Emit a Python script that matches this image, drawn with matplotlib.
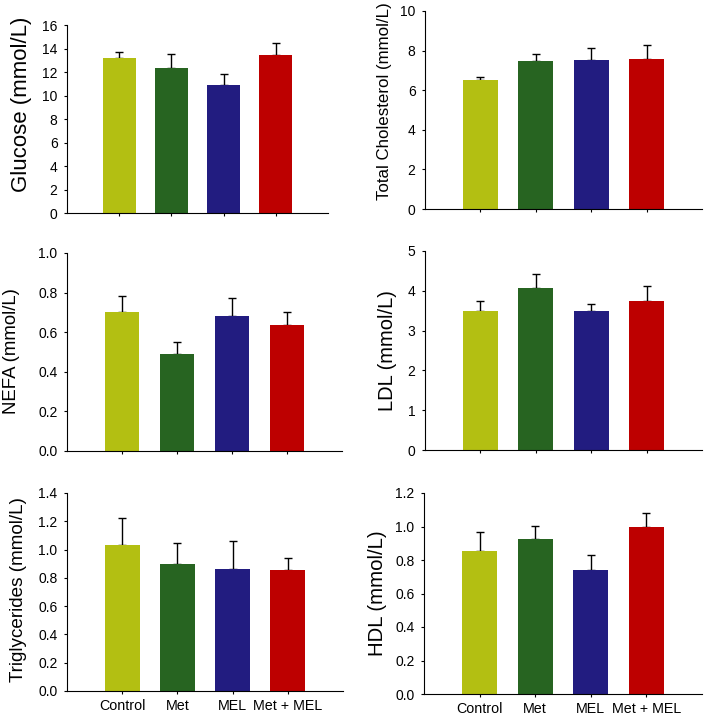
import matplotlib
matplotlib.use("Agg")
import matplotlib.pyplot as plt

plt.rcParams["font.family"] = ["Liberation Sans", "DejaVu Sans"]

# ===== data =====
groups = ["Control", "Met", "MEL", "Met + MEL"]
bar_colors = ["#B3BF12", "#276421", "#221C80", "#BD0000"]

glucose = [13.15, 12.3, 10.92, 13.42]
glucose_err = [0.58, 1.22, 0.88, 1.02]

total_chol = [6.54, 7.45, 7.54, 7.58]
total_chol_err = [0.15, 0.39, 0.6, 0.69]

nefa = [0.704, 0.489, 0.681, 0.635]
nefa_err = [0.077, 0.061, 0.094, 0.066]

ldl = [3.50, 4.07, 3.50, 3.74]
ldl_err = [0.24, 0.35, 0.17, 0.37]

trig = [1.03, 0.90, 0.86, 0.855]
trig_err = [0.19, 0.15, 0.20, 0.083]

hdl = [0.851, 0.923, 0.74, 1.0]
hdl_err = [0.119, 0.079, 0.087, 0.083]

# ===== figure =====
W, H = 709, 720
fig = plt.figure(figsize=(W / 100, H / 100), dpi=100)


def add_ax(x0, x1, y0, y1):
    # pixel box -> figure fraction
    return fig.add_axes([x0 / W, 1 - y1 / H, (x1 - x0) / W, (y1 - y0) / H])


panels = [
    # (pixel box, values, errors, ylim, yticks, fmt, label, label pos (px), label size, show_x)
    ((67, 328, 25, 213), glucose, glucose_err, 16, range(0, 17, 2), "{:.0f}",
     "Glucose (mmol/L)", (32, 104), 16, False),
    ((425, 702, 11, 209), total_chol, total_chol_err, 10, range(0, 11, 2), "{:.0f}",
     "Total Cholesterol (mmol/L)", (392, 101), 12.2, False),
    ((67, 342, 253, 451), nefa, nefa_err, 1.0, [0, 0.2, 0.4, 0.6, 0.8, 1.0], "{:.1f}",
     "NEFA (mmol/L)", (20, 351), 13.4, False),
    ((425, 702, 251, 450), ldl, ldl_err, 5, range(0, 6), "{:.0f}",
     "LDL (mmol/L)", (397, 351), 14.5, False),
    ((67, 343, 493, 691), trig, trig_err, 1.4, [0, 0.2, 0.4, 0.6, 0.8, 1.0, 1.2, 1.4], "{:.1f}",
     "Triglycerides (mmol/L)", (27, 590), 13.6, True),
    ((424, 702, 493, 694), hdl, hdl_err, 1.2, [0, 0.2, 0.4, 0.6, 0.8, 1.0, 1.2], "{:.1f}",
     "HDL (mmol/L)", (387, 593), 14.7, True),
]

x = list(range(len(groups)))

for box, vals, errs, ytop, yticks, fmt, label, lab_pos, lab_size, show_x in panels:
    ax = add_ax(*box)
    ax.errorbar(x, vals, yerr=[[0] * len(errs), errs], fmt="none",
                ecolor="black", elinewidth=1, capsize=3, capthick=1, zorder=1)
    ax.bar(x, vals, width=0.63, color=bar_colors, zorder=2)
    ax.set_xlim(-1, 4)
    ax.set_ylim(0, ytop)
    ax.set_yticks(list(yticks))
    ax.set_yticklabels([fmt.format(t) for t in yticks])
    ax.set_xticks(x)
    if show_x:
        ax.set_xticklabels(groups, fontsize=10.3)
    else:
        ax.set_xticklabels([])
    ax.tick_params(axis="y", labelsize=10, length=2.5, width=0.8, pad=4.3)
    ax.tick_params(axis="x", length=2.5, width=0.8, pad=3.6)
    for s in ["top", "right"]:
        ax.spines[s].set_visible(False)
    for s in ["left", "bottom"]:
        ax.spines[s].set_linewidth(0.8)
    ax.set_ylabel(label, fontsize=lab_size)
    ax.yaxis.set_label_coords(lab_pos[0] / W, 1 - lab_pos[1] / H, transform=fig.transFigure)

fig.savefig("out.png", dpi=100)
